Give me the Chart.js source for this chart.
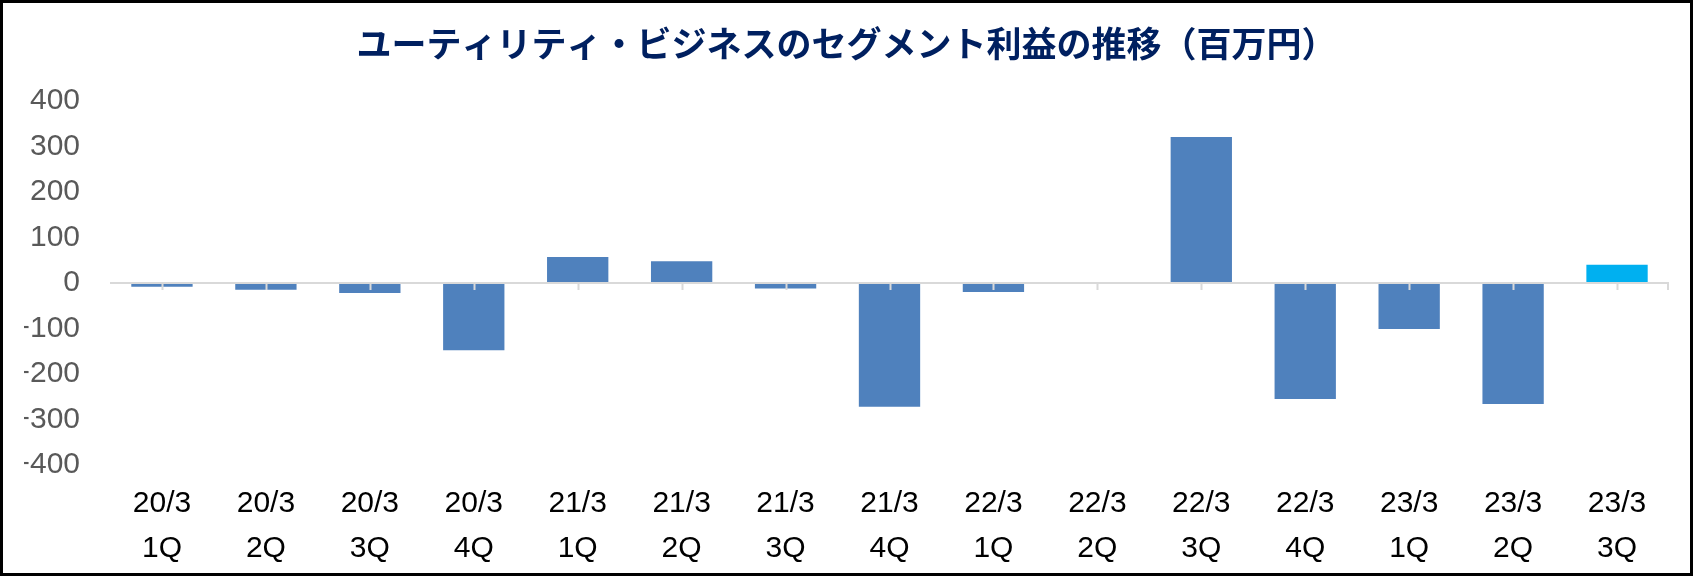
<!DOCTYPE html>
<html lang="ja">
<head>
    <meta charset="UTF-8">
    <title>ユーティリティ・ビジネスのセグメント利益の推移</title>
    <script src="https://cdn.jsdelivr.net/npm/chart.js"></script>
    <style>
        body {
            margin: 0;
            background: #ffffff;
        }

        .frame {
            width: 1693px;
            height: 576px;
            box-sizing: border-box;
            border: 3px solid #000000;
            background: #ffffff;
        }

        canvas#barChart {
            display: block;
        }
    </style>
</head>
<body>
    <div class="frame">
        <canvas id="barChart" width="1687" height="570"></canvas>
    </div>

    <script>
        // periods (two-line category labels)
        const years = ['20/3', '20/3', '20/3', '20/3', '21/3', '21/3', '21/3', '21/3', '22/3', '22/3', '22/3', '22/3', '23/3', '23/3', '23/3'];
        const quarters = ['1Q', '2Q', '3Q', '4Q', '1Q', '2Q', '3Q', '4Q', '1Q', '2Q', '3Q', '4Q', '1Q', '2Q', '3Q'];
        // segment profit, million yen
        const profit = [-8, -15, -22, -148, 57, 48, -12, -272, -20, 0, 321, -255, -101, -266, 40];
        const yTicks = [-400, -300, -200, -100, 0, 100, 200, 300, 400];

        const labels = years.map((y, i) => [y, quarters[i]]);
        const barColors = profit.map((v, i) => i === profit.length - 1 ? '#00B0F0' : '#4F81BD');

        // zero line + small tick marks at category centres, drawn over the bars
        const zeroAxis = {
            id: 'zeroAxis',
            afterDatasetsDraw(chart) {
                const ctx = chart.ctx;
                const x = chart.scales.x;
                const y0 = chart.scales.y.getPixelForValue(0);
                ctx.save();
                ctx.strokeStyle = '#D9D9D9';
                ctx.lineWidth = 2;
                ctx.beginPath();
                ctx.moveTo(chart.chartArea.left, y0);
                ctx.lineTo(chart.chartArea.right, y0);
                ctx.stroke();
                ctx.beginPath();
                for (let i = 0; i < labels.length; i++) {
                    const px = Math.round(x.getPixelForValue(i)) + 0.5;
                    ctx.moveTo(px, y0);
                    ctx.lineTo(px, y0 + 7);
                }
                ctx.moveTo(chart.chartArea.right - 1, y0);
                ctx.lineTo(chart.chartArea.right - 1, y0 + 7);
                ctx.stroke();
                ctx.restore();
            }
        };

        const ctx = document.getElementById('barChart').getContext('2d');
        new Chart(ctx, {
            type: 'bar',
            data: {
                labels: labels,
                datasets: [{
                    data: profit,
                    backgroundColor: barColors,
                    barPercentage: 0.59,
                    categoryPercentage: 1.0
                }]
            },
            options: {
                responsive: false,
                animation: false,
                layout: {
                    // equal side padding keeps the title centred on the canvas
                    padding: { left: 21, right: 21, top: 0, bottom: 0 }
                },
                plugins: {
                    legend: { display: false },
                    tooltip: { enabled: false },
                    title: {
                        display: true,
                        text: 'ユーティリティ・ビジネスのセグメント利益の推移（百万円）',
                        color: '#002060',
                        font: { family: '"Noto Sans CJK JP", sans-serif', size: 35, weight: 'bold', lineHeight: 1.2 },
                        padding: { top: 20, bottom: 36 }
                    }
                },
                scales: {
                    x: {
                        grid: { display: false, drawTicks: false },
                        border: { display: false },
                        ticks: {
                            color: '#000000',
                            padding: 16,
                            maxRotation: 0,
                            autoSkip: false,
                            font: { family: '"Liberation Sans", Arial, sans-serif', size: 30, lineHeight: 1.5 }
                        },
                        afterFit(scale) { scale.height = 108; }
                    },
                    y: {
                        min: -400,
                        max: 400,
                        afterBuildTicks(scale) { scale.ticks = yTicks.map(v => ({ value: v })); },
                        grid: { display: false, drawTicks: false },
                        border: { display: false },
                        ticks: {
                            color: '#595959',
                            padding: 30,
                            font: { family: '"Liberation Sans", Arial, sans-serif', size: 30 },
                            callback: v => v < 0 ? '−' + Math.abs(v) : String(v)
                        },
                        afterFit(scale) { scale.width = 86; }
                    }
                }
            },
            plugins: [zeroAxis]
        });
    </script>
</body>
</html>
